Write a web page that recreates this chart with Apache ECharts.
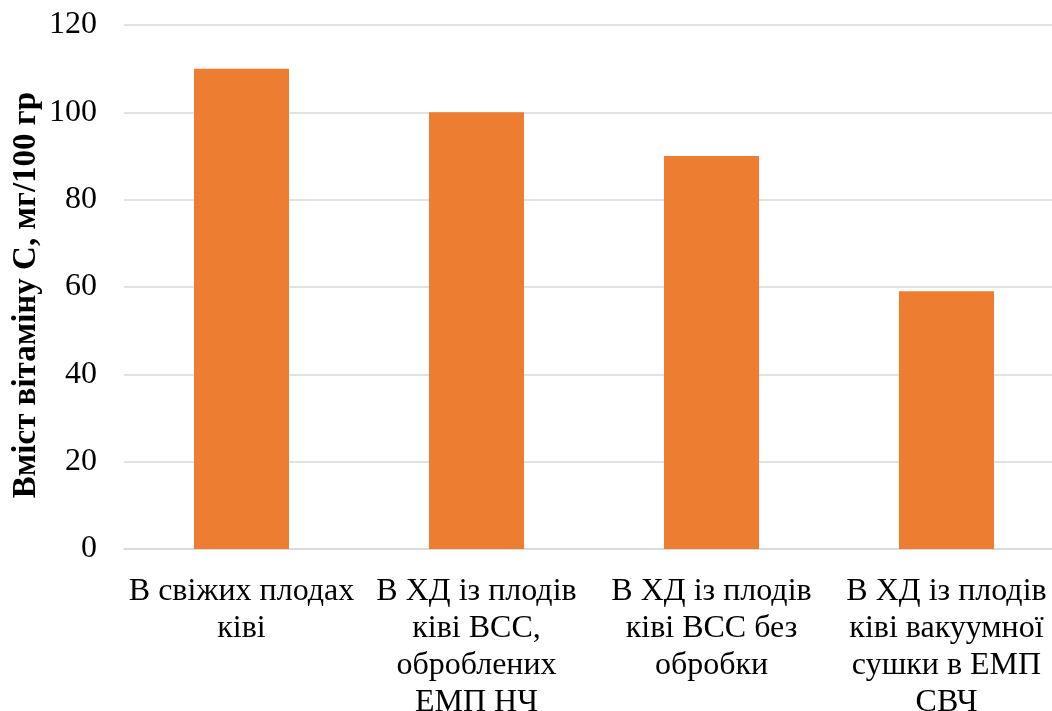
<!DOCTYPE html>
<html>
<head>
<meta charset="utf-8">
<script src="https://cdn.jsdelivr.net/npm/echarts@6/dist/echarts.min.js"></script>
<style>
  html, body { margin: 0; padding: 0; background: #fff; overflow: hidden; }
  #chart { width: 1052px; height: 711px; }
</style>
</head>
<body>
<div id="chart"></div>
<script>
// Categories (line breaks as set in the source layout)
const categories = [
  'В свіжих плодах\nківі',
  'В ХД із плодів\nківі ВСС,\nоброблених\nЕМП НЧ',
  'В ХД із плодів\nківі ВСС без\nобробки',
  'В ХД із плодів\nківі вакуумної\nсушки в ЕМП\nСВЧ'
];
// Vitamin C content, mg/100 g
const vitaminC = [110, 100, 90, 59];
const yAxisTitle = 'Вміст вітаміну С, мг/100 гр';

const FONT = '"Liberation Serif", "Times New Roman", serif';

const chart = echarts.init(document.getElementById('chart'), null, { renderer: 'canvas' });
chart.setOption({
  animation: false,
  backgroundColor: '#ffffff',
  // plot area runs slightly past the right edge of the canvas
  grid: {
    left: 124, top: 25, right: -12, bottom: 162,
    containLabel: false,
    outerBoundsMode: 'none'
  },
  xAxis: {
    type: 'category',
    data: categories,
    axisLine: { show: true, lineStyle: { color: '#d9d9d9', width: 1.5 } },
    axisTick: { show: false },
    axisLabel: {
      interval: 0,
      margin: 24,
      fontFamily: FONT,
      fontSize: 32,
      lineHeight: 37,
      color: '#000',
      align: 'center'
    }
  },
  yAxis: {
    type: 'value',
    min: 0,
    max: 120,
    interval: 20,
    name: yAxisTitle,
    nameLocation: 'middle',
    nameGap: 81,
    nameMoveOverlap: false,
    nameTextStyle: { fontFamily: FONT, fontSize: 33, fontWeight: 'bold', color: '#000', padding: [0, 16, 0, 0] },
    axisLine: { show: false },
    axisTick: { show: false },
    splitLine: { show: true, lineStyle: { color: '#d9d9d9', width: 1.5 } },
    axisLabel: { margin: 27, fontFamily: FONT, fontSize: 32, color: '#000' }
  },
  series: [{
    type: 'bar',
    data: vitaminC,
    barWidth: 95,
    itemStyle: { color: '#ED7D31' }
  }]
});
</script>
</body>
</html>
